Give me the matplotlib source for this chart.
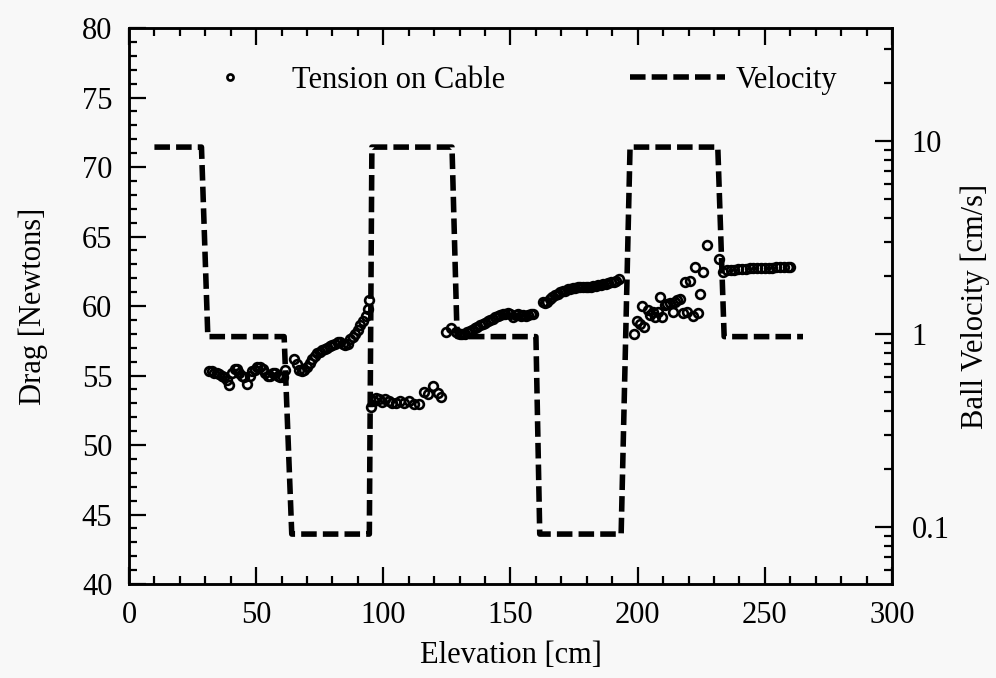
"""Drag on cable and ball velocity versus elevation"""
import matplotlib
matplotlib.use("Agg")
import matplotlib.pyplot as plt
from matplotlib.ticker import MultipleLocator, FuncFormatter, NullFormatter, LogLocator

plt.rcParams['font.family'] = ['Liberation Serif', 'DejaVu Serif']
plt.rcParams['font.size'] = 22

# Tension on cable (elevation cm, drag N)
elev_1 = [31.5, 32.5, 33.5, 34.5, 35.5, 36.5, 37.5, 38.5, 39.3, 40.5, 41.5, 42.3, 43.3, 44.3, 45.3, 46.5,
          47.5, 48.5, 49.5, 50.5, 51.5, 52.5, 53.5, 54.5, 55.5, 56.5, 57.5, 58.5, 59.5, 60.5, 61.2]
drag_1 = [55.3, 55.3, 55.2, 55.2, 55.1, 55.0, 54.9, 54.7, 54.3, 55.2, 55.5, 55.5, 55.2, 55.0, 54.9, 54.4,
          55.0, 55.3, 55.4, 55.6, 55.6, 55.5, 55.2, 55.0, 55.0, 55.2, 55.2, 55.0, 54.9, 54.9, 55.4]
elev_2 = [65, 66, 67, 68, 69, 70, 71, 72, 73, 74, 75, 76, 77, 78, 79, 80, 81, 82, 83, 84,
          85, 86, 87, 88, 89, 90, 91, 92, 93, 94, 94.4]
drag_2 = [56.2, 55.8, 55.4, 55.3, 55.4, 55.6, 55.9, 56.2, 56.4, 56.6, 56.7, 56.8, 56.9, 57.0, 57.1, 57.2,
          57.3, 57.4, 57.4, 57.3, 57.2, 57.3, 57.6, 57.8, 58.0, 58.3, 58.6, 58.9, 59.3, 59.8, 60.4]
elev_3 = [95.3, 96.2, 97.2, 98.2, 99.6, 100.8, 102.4, 103.6, 105, 106.5, 108.3, 110.2, 112, 114, 116,
          117.4, 119.4, 121.3, 122.7]
drag_3 = [52.7, 53.2, 53.4, 53.3, 53.1, 53.3, 53.2, 53.0, 53.0, 53.2, 53.0, 53.2, 52.95, 52.95, 53.8,
          53.7, 54.25, 53.75, 53.45]
elev_4 = [124.7, 126.6, 128.5, 130, 131, 132, 133, 134, 135, 136, 137, 138, 139, 140, 141, 142, 143,
          144, 145, 146, 147, 148, 149, 150, 151, 152, 153, 154, 155, 156, 157, 158, 159]
drag_4 = [58.1, 58.4, 58.1, 58.0, 58.0, 58.0, 58.1, 58.2, 58.3, 58.4, 58.5, 58.6, 58.7, 58.8, 58.9, 59.0,
          59.1, 59.2, 59.3, 59.35, 59.4, 59.45, 59.5, 59.45, 59.2, 59.35, 59.4, 59.3, 59.35, 59.3, 59.35,
          59.4, 59.4]
elev_5 = [162.6, 163.5, 164.5, 165.5, 166.5, 167.5, 168.5, 169.5, 170.5, 171.5, 172.5, 173.5, 174.5,
          175.5, 176.5, 177.5, 178.5, 179.5, 180.5, 181.5, 182.5, 183.5, 184.5, 185.5, 186.5, 187.5,
          188.5, 189.5, 190.5, 191.5, 192.7]
drag_5 = [60.3, 60.2, 60.3, 60.5, 60.65, 60.8, 60.9, 61.0, 61.05, 61.1, 61.2, 61.25, 61.3, 61.3, 61.35,
          61.35, 61.4, 61.4, 61.4, 61.4, 61.45, 61.45, 61.5, 61.5, 61.55, 61.6, 61.65, 61.7, 61.75, 61.8,
          61.95]
elev_6 = [198.4, 199.6, 200.8, 202.4, 201.6, 204, 204.7, 206, 206.7, 208, 209.4, 208.7, 210.6, 211.5,
          212.6, 213.8, 214.5, 215.4, 216.5, 217.7, 218.5, 219.3, 220.5, 221.6, 222.4, 223.6, 224.4,
          225.6, 227.2, 231.9]
drag_6 = [58.0, 58.9, 58.7, 58.5, 60.0, 59.7, 59.35, 59.6, 59.2, 59.6, 59.2, 60.65, 60.1, 60.15, 60.2,
          59.6, 60.3, 60.4, 60.5, 59.5, 61.7, 59.6, 61.8, 59.3, 62.8, 59.5, 60.9, 62.45, 64.4, 63.4]
elev_7 = [233.5, 235, 236.5, 238, 239.5, 241, 242.5, 244, 245.5, 247, 248.5, 250, 251.5, 253, 254.5,
          256, 257.5, 259, 259.8]
drag_7 = [62.45, 62.6, 62.6, 62.6, 62.65, 62.65, 62.65, 62.7, 62.7, 62.7, 62.7, 62.75, 62.75, 62.75,
          62.8, 62.8, 62.8, 62.8, 62.8]

# Ball velocity profile (elevation cm, velocity cm/s)
vel_elev = [10, 28.5, 31, 61, 64, 94.5, 95.5, 127, 129, 160, 161.5, 193.5, 197, 231.5, 234, 265]
vel_val = [9.3, 9.3, 0.97, 0.97, 0.092, 0.092, 9.3, 9.3, 0.97, 0.97, 0.092, 0.092, 9.3, 9.3, 0.97, 0.97]

FONDO = '#f8f8f8'

fig = plt.figure(figsize=(9.96, 6.78), dpi=100, facecolor=FONDO)
ax = fig.add_axes([0.1295, 0.1386, 0.7661, 0.8201], facecolor=FONDO)
ax2 = ax.twinx()

elev = elev_1 + elev_2 + elev_3 + elev_4 + elev_5 + elev_6 + elev_7
drag = drag_1 + drag_2 + drag_3 + drag_4 + drag_5 + drag_6 + drag_7
puntos, = ax.plot(elev, drag, 'o', markersize=6.3, markerfacecolor='none',
                  markeredgecolor='black', markeredgewidth=1.9, label='Tension on Cable')
linea, = ax2.plot(vel_elev, vel_val, color='black', linewidth=4,
                  linestyle=(0, (2.8, 1.1)), label='Velocity')

ax.set_xlim(0, 300)
ax.set_ylim(40, 80)
ax2.set_yscale('log')
ax2.set_ylim(0.0507, 38.5)

ax.xaxis.set_major_locator(MultipleLocator(50))
ax.xaxis.set_minor_locator(MultipleLocator(10))
ax.yaxis.set_major_locator(MultipleLocator(5))
ax.yaxis.set_minor_locator(MultipleLocator(1))
ax.tick_params(which='both', direction='in', top=True, right=False, width=1.6)
ax.tick_params(which='major', length=12, pad=12)
ax.tick_params(which='minor', length=6)

ax2.yaxis.set_major_locator(LogLocator(base=10))
ax2.yaxis.set_minor_locator(LogLocator(base=10, subs=range(2, 10)))
ax2.yaxis.set_major_formatter(FuncFormatter(lambda v, p: f'{v:g}'))
ax2.yaxis.set_minor_formatter(NullFormatter())
ax2.tick_params(which='both', direction='in', width=1.6)
ax2.tick_params(which='major', length=12, pad=14)
ax2.tick_params(which='minor', length=6)

for a in (ax, ax2):
    for s in a.spines.values():
        s.set_linewidth(1.8)

ax.set_xlabel('Elevation [cm]', labelpad=8)
ax.set_ylabel('Drag [Newtons]', labelpad=24)
ax2.set_ylabel('Ball Velocity [cm/s]', labelpad=8)

leyenda1 = ax2.legend(handles=[puntos], loc='center left', bbox_to_anchor=(0.097, 0.906),
                      frameon=False, borderpad=0, borderaxespad=0, handlelength=1.8,
                      handletextpad=1.1, markerscale=0.7)
ax2.add_artist(leyenda1)
ax2.legend(handles=[linea], loc='center left', bbox_to_anchor=(0.657, 0.906),
           frameon=False, borderpad=0, borderaxespad=0, handlelength=3.1, handletextpad=0.35)

fig.savefig('out.png', dpi=100, facecolor=FONDO)
